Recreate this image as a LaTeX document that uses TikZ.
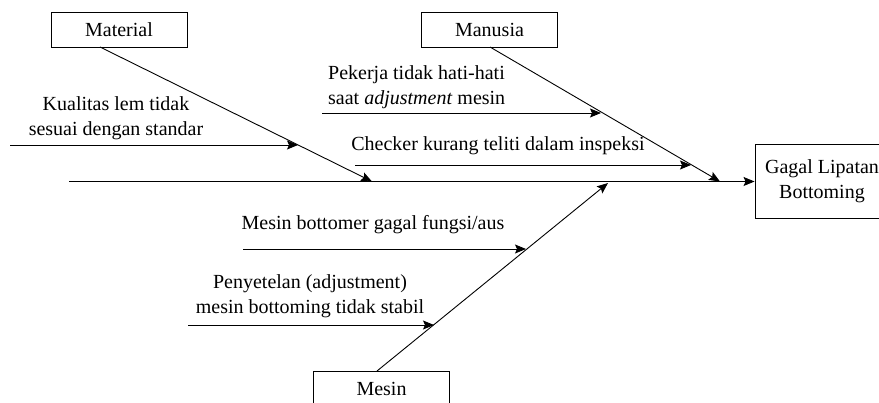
\documentclass[tikz,border=0pt]{standalone}
\usepackage{fontspec}
\setmainfont{LiberationSerif}[Extension=.ttf, UprightFont=*-Regular, ItalicFont=*-Italic, BoldFont=*-Bold]
\usetikzlibrary{arrows.meta}

\begin{document}
\begin{tikzpicture}[x=1pt, y=-1pt,
    box/.style={rectangle, draw=black, line width=0.9pt, minimum width=136pt, minimum height=35pt, inner sep=0pt, font=\fontsize{20}{25}\selectfont},
    cause/.style={inner sep=0pt, font=\fontsize{20}{25}\selectfont},
    bone/.style={draw=black, line width=0.9pt, -{Stealth[length=11pt, width=9pt, inset=2pt]}}]
  \useasboundingbox (0,0) rectangle (879,403);

  \node[box] (material) at (119,29.5) {Material};
  \node[box] (manusia) at (489.5,29.5) {Manusia};
  \node[box] (mesin) at (381.5,388.5) {Mesin};
  \node[box, minimum width=134pt, minimum height=74pt, align=center] (gagal) at (822,181.5) {Gagal Lipatan\\Bottoming};

  \coordinate (tail) at (69,181.5);
  \coordinate (material-foot) at (100,47);
  \coordinate (material-head) at (372,181.5);
  \coordinate (manusia-foot) at (490,47);
  \coordinate (manusia-head) at (720,181.5);
  \coordinate (mesin-foot) at (377,371);
  \coordinate (mesin-head) at (608,183);

  \draw[bone] (tail) -- (tail -| gagal.west);
  \draw[bone] (material-foot) -- (material-head);
  \draw[bone] (manusia-foot) -- (manusia-head);
  \draw[bone] (mesin-foot) -- (mesin-head);

  \node[cause, align=center] (kualitas) at (116,118.5) {Kualitas lem tidak\\sesuai dengan standar};
  \node[cause, align=left, anchor=west] (pekerja) at (328,87) {Pekerja tidak hati-hati\\saat \textit{adjustment} mesin};
  \node[cause] (checker) at (498,146) {Checker kurang teliti dalam inspeksi};
  \node[cause] (bottomer) at (373,225) {Mesin bottomer gagal fungsi/aus};
  \node[cause, align=center] (penyetelan) at (310,296) {Penyetelan (adjustment)\\mesin bottoming tidak stabil};

  \coordinate (kualitas-a) at (10,145);
  \coordinate (kualitas-b) at (298,145);
  \coordinate (pekerja-a) at (322,113);
  \coordinate (pekerja-b) at (601,113);
  \coordinate (checker-a) at (355,165);
  \coordinate (checker-b) at (691,165);
  \coordinate (bottomer-a) at (243,249);
  \coordinate (bottomer-b) at (526,249);
  \coordinate (penyetelan-a) at (188,325);
  \coordinate (penyetelan-b) at (434,325);

  \draw[bone] (kualitas-a) -- (kualitas-b);
  \draw[bone] (pekerja-a) -- (pekerja-b);
  \draw[bone] (checker-a) -- (checker-b);
  \draw[bone] (bottomer-a) -- (bottomer-b);
  \draw[bone] (penyetelan-a) -- (penyetelan-b);
\end{tikzpicture}
\end{document}
